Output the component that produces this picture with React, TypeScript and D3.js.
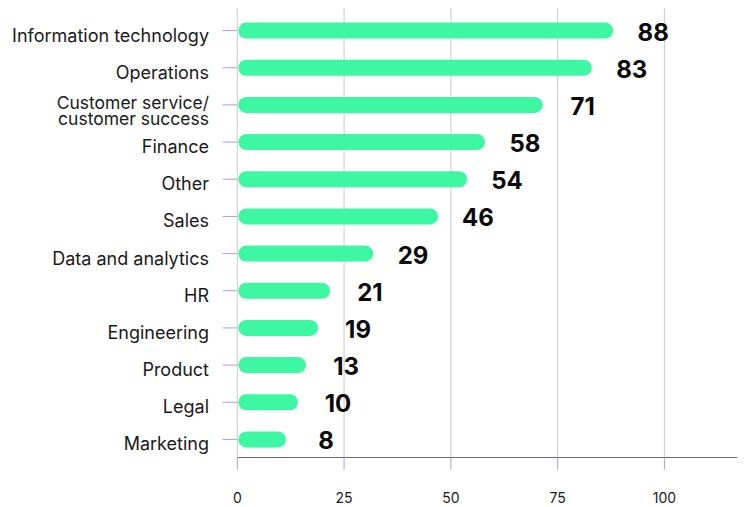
import React from "react";
import * as d3 from "d3";

const categories = [
  "Information technology",
  "Operations",
  "Customer service/\ncustomer success",
  "Finance",
  "Other",
  "Sales",
  "Data and analytics",
  "HR",
  "Engineering",
  "Product",
  "Legal",
  "Marketing",
];
// printed value labels
const values = [88, 83, 71, 58, 54, 46, 29, 21, 19, 13, 10, 8];
const barValues = [88, 83, 71.5, 58, 53.8, 47, 31.8, 21.7, 18.9, 16.1, 14.2, 11.4];
const xTicks = [0, 25, 50, 75, 100];

const W = 744;
const H = 507;
const FONT = "Inter, 'Noto Sans', sans-serif";

export default function App() {
  const x = d3.scaleLinear().domain([0, 117]).range([237.3, 737]);
  const y = d3
    .scaleBand<string>()
    .domain(categories)
    .range([12, 458])
    .paddingInner(0)
    .paddingOuter(0);
  const axisY = 457.5;
  const barH = 16;

  return (
    <svg
      width={W}
      height={H}
      style={{ position: "absolute", left: 0, top: 0, display: "block", background: "#fff" }}
      fontFamily={FONT}
    >
      {/* gridlines */}
      {xTicks.map((t) => (
        <line
          key={"g" + t}
          x1={x(t)}
          x2={x(t)}
          y1={8}
          y2={axisY}
          stroke="#cccccc"
          strokeWidth={1}
        />
      ))}
      {/* x axis */}
      <line x1={x(0)} x2={x(117)} y1={axisY} y2={axisY} stroke="#6b6b6b" strokeWidth={1.2} />
      {xTicks.map((t) => (
        <g key={"t" + t}>
          <line x1={x(t)} x2={x(t)} y1={axisY} y2={469.5} stroke="#bb96d6" strokeWidth={1} />
          <text x={x(t)} y={503} textAnchor="middle" fontSize={14} fill="#1a1a1a">
            {t}
          </text>
        </g>
      ))}
      {/* rows */}
      {categories.map((c, i) => {
        const cy = (y(c) as number) + y.bandwidth() / 2;
        const lines = c.split("\n");
        const x0 = x(0) + 1;
        const x1 = x(barValues[i]);
        return (
          <g key={c}>
            <line x1={222.5} x2={x(0)} y1={cy} y2={cy} stroke="#bb96d6" strokeWidth={1} />
            <rect
              x={x0}
              y={cy - barH / 2}
              width={x1 - x0}
              height={barH}
              rx={barH / 2}
              ry={barH / 2}
              fill="#3ef7a2"
            />
            {lines.length === 1 ? (
              <text x={209} y={cy + 11} textAnchor="end" fontSize={18} fill="#1a1a1a">
                {c}
              </text>
            ) : (
              <text textAnchor="end" fontSize={17.5} fill="#1a1a1a">
                <tspan x={209} y={cy + 4}>
                  {lines[0]}
                </tspan>
                <tspan x={209} y={cy + 20}>
                  {lines[1]}
                </tspan>
              </text>
            )}
            <text
              x={x1 + 40}
              y={cy + 10}
              textAnchor="middle"
              fontSize={24}
              fontWeight={700}
              fill="#0a0a0a"
            >
              {values[i]}
            </text>
          </g>
        );
      })}
    </svg>
  );
}
